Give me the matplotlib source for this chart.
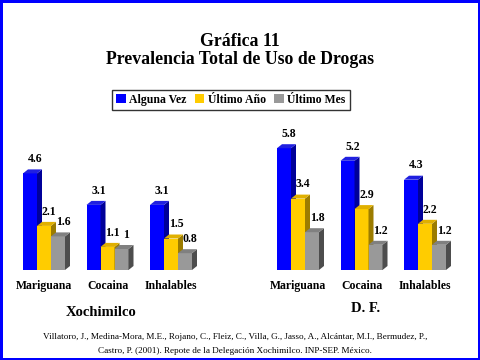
import numpy as np
import matplotlib.pyplot as plt
from matplotlib.patches import Polygon, Patch, Rectangle

# Data
categories = ['Mariguana', 'Cocaina', 'Inhalables']
series = ['Alguna Vez', 'Último Año', 'Último Mes']
xochimilco = [[4.6, 3.1, 3.1], [2.1, 1.1, 1.5], [1.6, 1.0, 0.8]]
df = [[5.8, 5.2, 4.3], [3.4, 2.9, 2.2], [1.8, 1.2, 1.2]]
value_labels_x = [['4.6', '3.1', '3.1'], ['2.1', '1.1', '1.5'], ['1.6', '1', '0.8']]
value_labels_df = [['5.8', '5.2', '4.3'], ['3.4', '2.9', '2.2'], ['1.8', '1.2', '1.2']]

front = ['#0000FF', '#FFCC00', '#999999']
side = ['#000099', '#9C7C00', '#4D4D4D']
top = ['#2020E0', '#E0B000', '#808080']

plt.rcParams['font.family'] = ['Liberation Serif', 'DejaVu Serif']

W, H = 480, 360
fig = plt.figure(figsize=(4.8, 3.6), dpi=100)

spacing = 63.5          # px per category
unit = 21.0             # px per value unit
bw = 14 / spacing
dx = 5 / spacing
dy = 4 / unit


def draw_chart(left_px, data, labels):
    ax = fig.add_axes([left_px / W, (H - 270) / H, 200 / W, 136.5 / H])
    ax.set_xlim(-(44 - 15) / spacing, (215 - 44) / spacing)
    ax.set_ylim(0, 136.5 / unit)
    x = np.arange(len(categories))
    z = 2
    for c in range(len(categories)):
        for s in range(len(series)):
            xc = x[c] + (s - 1) * bw
            v = data[s][c]
            ax.bar(xc, v, bw, color=front[s], zorder=z)
            xl, xr = xc - bw / 2, xc + bw / 2
            ax.add_patch(Polygon([(xr, 0), (xr + dx, dy), (xr + dx, v + dy), (xr, v)],
                                 closed=True, facecolor=side[s], edgecolor='none', zorder=z))
            ax.add_patch(Polygon([(xl, v), (xl + dx, v + dy), (xr + dx, v + dy), (xr, v)],
                                 closed=True, facecolor=top[s], edgecolor='none', zorder=z))
            ax.text(xc + dx * 1.0, v + dy + 0.2, labels[s][c], ha='center', va='bottom',
                    fontsize=8.5, fontweight='bold', zorder=20)
            z += 1
    ax.set_xticks(x)
    ax.set_xticklabels(categories, fontsize=8.5, fontweight='bold')
    ax.tick_params(axis='x', length=0, pad=7)
    ax.set_yticks([])
    for sp in ax.spines.values():
        sp.set_visible(False)
    ax.patch.set_alpha(0)
    return ax


draw_chart(15, xochimilco, value_labels_x)
draw_chart(269, df, value_labels_df)

fig.text(240 / W, 1 - 41 / H, 'Gráfica 11', ha='center', va='center',
         fontsize=12.8, fontweight='bold')
fig.text(240 / W, 1 - 60 / H, 'Prevalencia Total de Uso de Drogas', ha='center', va='center',
         fontsize=12.8, fontweight='bold')

handles = [Patch(facecolor=front[i], edgecolor='none') for i in range(3)]
leg = fig.legend(handles, series, loc='center', bbox_to_anchor=(231 / W, 1 - 100 / H),
                 ncol=3, frameon=True, fancybox=False, edgecolor='black',
                 prop={'weight': 'bold', 'size': 8.5}, handlelength=0.8, handleheight=0.8,
                 handletextpad=0.3, columnspacing=0.7, borderpad=0.35, borderaxespad=0)
leg.get_frame().set_linewidth(1.0)

fig.text(101 / W, 1 - 312 / H, 'Xochimilco', ha='center', va='center',
         fontsize=10.5, fontweight='bold')
fig.text(366 / W, 1 - 309 / H, 'D. F.', ha='center', va='center',
         fontsize=10.5, fontweight='bold')

fig.text(235 / W, 1 - 337 / H,
         'Villatoro, J., Medina-Mora, M.E., Rojano, C., Fleiz, C., Villa, G., Jasso, A., '
         'Alcántar, M.I., Bermudez, P.,', ha='center', va='center', fontsize=6.6)
fig.text(235 / W, 1 - 351 / H,
         'Castro, P. (2001). Repote de la Delegación Xochimilco. INP-SEP. México.',
         ha='center', va='center', fontsize=6.6)

fig.patches.append(Rectangle((0, 0), 1, 1, transform=fig.transFigure, fill=False,
                             edgecolor='#0000FF', linewidth=3.6, zorder=100))

fig.savefig('out.png', dpi=100)
